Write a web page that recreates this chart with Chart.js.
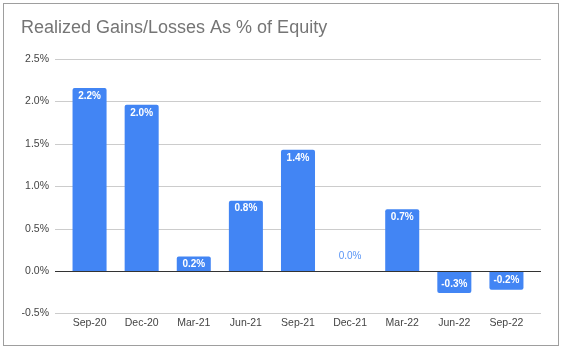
<!DOCTYPE html>
<html>
<head>
<meta charset="utf-8">
<script src="https://cdn.jsdelivr.net/npm/chart.js@4.4.0/dist/chart.umd.min.js"></script>
<style>
  html, body { margin: 0; padding: 0; background: #fff; }
  canvas { display: block; }
</style>
</head>
<body>
<canvas id="gains" width="561" height="353"></canvas>
<script>
const quarters = ["Sep-20", "Dec-20", "Mar-21", "Jun-21", "Sep-21", "Dec-21", "Mar-22", "Jun-22", "Sep-22"];
const gainsPct = [2.16, 1.96, 0.17, 0.83, 1.43, 0.0, 0.73, -0.26, -0.22];
const yTicks = [-0.5, 0, 0.5, 1.0, 1.5, 2.0, 2.5];

const BLUE = "#4285f4";
Chart.defaults.font.family = 'Arial, "Liberation Sans", sans-serif';

// frame, gridlines (a bit wider than the bar area) and value labels
const decor = {
  id: "decor",
  beforeDraw(chart) {
    const { ctx, chartArea, scales } = chart;
    ctx.save();
    ctx.fillStyle = "#fff";
    ctx.fillRect(0, 0, chart.width, chart.height);
    ctx.strokeStyle = "#9e9e9e";
    ctx.lineWidth = 1;
    ctx.strokeRect(3.5, 3.5, 555, 342);
    ctx.strokeStyle = "#cccccc";
    yTicks.forEach((t) => {
      if (t === 0) return;
      const py = Math.round(scales.y.getPixelForValue(t)) + 0.5;
      ctx.beginPath();
      ctx.moveTo(chartArea.left - 8.5, py);
      ctx.lineTo(chartArea.right + 8.5, py);
      ctx.stroke();
    });
    ctx.restore();
  },
  afterDatasetsDraw(chart) {
    const { ctx, chartArea, scales } = chart;
    ctx.save();
    const zy = Math.round(scales.y.getPixelForValue(0)) + 0.5;
    ctx.strokeStyle = "#333";
    ctx.beginPath();
    ctx.moveTo(chartArea.left - 8.5, zy);
    ctx.lineTo(chartArea.right + 8.5, zy);
    ctx.stroke();

    const bold = "bold 10px Arial, 'Liberation Sans', sans-serif";
    ctx.textAlign = "center";
    ctx.textBaseline = "middle";
    chart.getDatasetMeta(0).data.forEach((bar, i) => {
      const v = gainsPct[i];
      const txt = v.toFixed(1) + "%";
      if (v === 0) {
        ctx.fillStyle = "#5a95f5";
        ctx.font = "10px Arial, 'Liberation Sans', sans-serif";
        ctx.fillText(txt, bar.x, bar.y - 15);
      } else {
        ctx.fillStyle = "#fff";
        ctx.font = bold;
        ctx.fillText(txt, bar.x, v > 0 ? bar.y + 8 : bar.y - 9);
      }
    });
    ctx.restore();
  },
};

new Chart(document.getElementById("gains"), {
  type: "bar",
  data: {
    labels: quarters,
    datasets: [
      {
        data: gainsPct,
        backgroundColor: BLUE,
        borderRadius: 2,
        borderSkipped: "start",
        barPercentage: 0.653,
        categoryPercentage: 1,
      },
    ],
  },
  options: {
    responsive: false,
    animation: false,
    layout: {
      padding: { left: 21, right: 28.5, top: 0, bottom: 21 },
    },
    plugins: {
      legend: { display: false },
      tooltip: { enabled: false },
      title: {
        display: true,
        text: "Realized Gains/Losses As % of Equity",
        align: "start",
        color: "#757575",
        font: { size: 18, weight: "normal" },
        padding: { top: 17, bottom: 20.5 },
      },
    },
    scales: {
      x: {
        grid: { display: false, drawTicks: false },
        border: { display: false },
        ticks: { color: "#444", font: { size: 10.5 }, padding: 3 },
      },
      y: {
        min: -0.5,
        max: 2.5,
        grid: { display: false, drawTicks: false },
        border: { display: false },
        ticks: {
          stepSize: 0.5,
          color: "#444",
          font: { size: 10.5 },
          padding: 14.5,
          callback: (v) => v.toFixed(1) + "%",
        },
        afterFit(scale) {
          scale.width = 42.5;
        },
      },
    },
  },
  plugins: [decor],
});
</script>
</body>
</html>
